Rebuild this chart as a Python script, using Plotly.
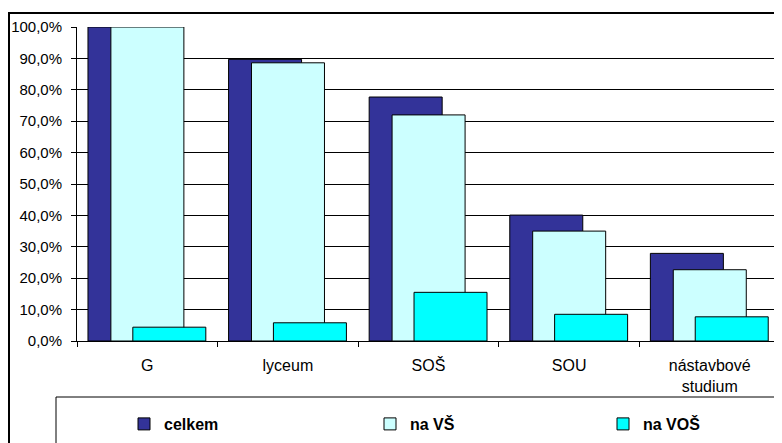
import plotly.graph_objects as go

categories = ["G", "lyceum", "SOŠ", "SOU", "nástavbové<br>studium"]
celkem = [100.0, 89.7, 77.7, 40.1, 27.9]
na_vs = [100.0, 88.6, 72.0, 35.0, 22.7]
na_vos = [4.4, 5.8, 15.5, 8.5, 7.7]
y_ticks = [0, 10, 20, 30, 40, 50, 60, 70, 80, 90, 100]
y_tick_labels = [f"{v:.1f}%".replace(".", ",") for v in y_ticks]

# the page body has an 8px margin, so figure coords = screen coords - 8
OFF = 8
W, H = 782 - OFF, 443 - OFF
L, R, T, B = 77 - OFF, 780 - OFF, 27 - OFF, 341 - OFF
pw, ph = R - L, B - T


def px_x(x):
    return (x - OFF - L) / pw


def px_y(y):
    return (B - (y - OFF)) / ph


FONT = "Liberation Sans, Arial, sans-serif"
bw = 73 / 140.6

fig = go.Figure()
series = [
    ("celkem", celkem, "#333399", -0.422, "legend"),
    ("na VŠ", na_vs, "#CCFFFF", -0.259, "legend2"),
    ("na VOŠ", na_vos, "#00FFFF", -0.103, "legend3"),
]
for name, vals, color, off, lg in series:
    fig.add_trace(go.Bar(
        x=categories, y=vals, name=name,
        marker=dict(color=color, line=dict(color="#000000", width=1)),
        width=bw, offset=off, legend=lg,
    ))

leg_common = dict(
    orientation="h", yanchor="middle", xanchor="left",
    font=dict(family=FONT, size=16, color="#000000", weight="bold"),
    bgcolor="rgba(0,0,0,0)", borderwidth=0,
)
legy = px_y(424)
fig.update_layout(
    legend=dict(x=px_x(124), y=legy, **leg_common),
    legend2=dict(x=px_x(370), y=legy, **leg_common),
    legend3=dict(x=px_x(603), y=legy, **leg_common),
)

fig.update_layout(
    width=W, height=H,
    margin=dict(l=L, r=W - R, t=T, b=H - B, pad=0),
    barmode="overlay",
    separators=", ",
    paper_bgcolor="#FFFFFF",
    plot_bgcolor="#FFFFFF",
    showlegend=True,
    font=dict(family=FONT, size=15, color="#000000"),
    xaxis=dict(
        type="category", range=[-0.5, 4.5], tickson="boundaries",
        ticks="outside", ticklen=5, tickcolor="#000000",
        showline=True, linecolor="#000000", linewidth=1,
        showgrid=False, tickfont=dict(family=FONT, size=16),
        ticklabelstandoff=10, fixedrange=True, automargin=False,
    ),
    yaxis=dict(
        range=[0, 100], tickvals=y_ticks, ticktext=y_tick_labels,
        ticks="outside", ticklen=5, tickcolor="#000000",
        showline=True, linecolor="#000000", linewidth=1,
        showgrid=True, gridcolor="#000000", gridwidth=1,
        zeroline=False, tickfont=dict(family=FONT, size=15),
        ticklabelstandoff=6, fixedrange=True, automargin=False,
    ),
    shapes=[
        # plot area right border (grey)
        dict(type="line", xref="paper", yref="paper", x0=1, x1=1, y0=0, y1=1,
             line=dict(color="#808080", width=1)),
        # outer chart border
        dict(type="rect", xref="paper", yref="paper",
             x0=px_x(9), x1=px_x(800), y0=px_y(470), y1=px_y(13),
             line=dict(color="#000000", width=2), layer="below"),
        # legend box
        dict(type="rect", xref="paper", yref="paper",
             x0=px_x(56), x1=px_x(779), y0=px_y(470), y1=px_y(397),
             line=dict(color="#000000", width=1), layer="below"),
    ],
)

fig.write_html("out.html")
